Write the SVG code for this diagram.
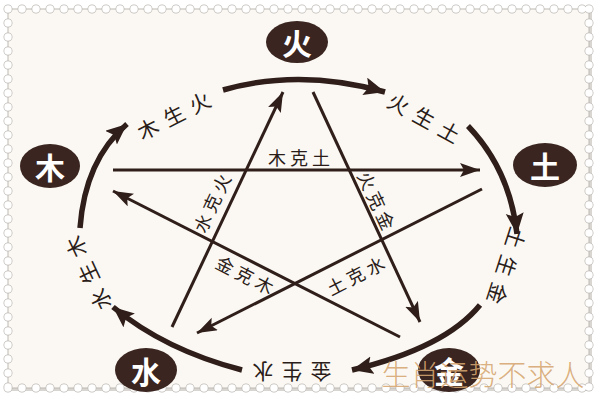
<svg xmlns="http://www.w3.org/2000/svg" width="600" height="400" viewBox="0 0 600 400">
<style>
.node ellipse{fill:#3a2520}
.node text{fill:#ffffff;font-family:"Noto Sans CJK SC",sans-serif;font-weight:bold;font-size:30px;text-anchor:middle;dominant-baseline:central}
.arc{fill:none;stroke:#2f1e19;stroke-width:5.5;stroke-linecap:butt}
.star{fill:none;stroke:#2f1e19;stroke-width:3}
.lbl{fill:#2a1c18;font-family:"Noto Sans CJK SC",sans-serif;font-size:21px;text-anchor:middle;dominant-baseline:central;letter-spacing:8px}
.slbl{fill:#2a1c18;font-family:"Noto Sans CJK SC",sans-serif;font-size:18px;text-anchor:middle;dominant-baseline:central;letter-spacing:4px}
.perf{fill:none;stroke-dasharray:0 14;stroke-linecap:round}
</style>
<defs>
<marker id="ah" markerUnits="userSpaceOnUse" markerWidth="22" markerHeight="16" refX="20" refY="7" orient="auto">
<path d="M0,0 L20,7 L0,14 L4,7 z" fill="#2f1e19"/>
</marker>
<marker id="ahb" markerUnits="userSpaceOnUse" markerWidth="24" markerHeight="20" refX="21" refY="9" orient="auto">
<path d="M0,0 L21,9 L0,18 L4,9 z" fill="#2f1e19"/>
</marker>
</defs>
<rect width="600" height="400" fill="#ffffff"/>
<rect x="10" y="11" width="582" height="380" fill="#d9d6d2"/>
<rect x="8" y="9" width="581" height="379" fill="#fbf8f3" stroke="#bdb9b4" stroke-width="1"/>
<g class="perf" stroke="#bdb9b4" stroke-width="9">
<path d="M8,9 H589 M8,388 H589 M8,9 V388 M589,9 V388"/>
</g>
<g class="perf" stroke="#ffffff" stroke-width="7.5">
<path d="M8,9 H589 M8,388 H589 M8,9 V388 M589,9 V388"/>
</g>
<g id="connectors">
<path class="arc" d="M223,90 Q300,68 385,92" marker-end="url(#ahb)"/>
<path class="arc" d="M468,126 Q510,170 517,234" marker-end="url(#ahb)"/>
<path class="arc" d="M480,305 Q445,348 352,370" marker-end="url(#ahb)"/>
<path class="arc" d="M242,370 Q165,350 113,307" marker-end="url(#ahb)"/>
<path class="arc" d="M80,228 Q85,160 127,124" marker-end="url(#ahb)"/>
<path class="star" d="M113,170 L480,170" marker-end="url(#ah)"/>
<path class="star" d="M313,92 L420,322" marker-end="url(#ah)"/>
<path class="star" d="M482,189 L197,333" marker-end="url(#ah)"/>
<path class="star" d="M400,337 L113,191" marker-end="url(#ah)"/>
<path class="star" d="M172,327 L283,92" marker-end="url(#ah)"/>
</g>
<g id="labels">
<text class="lbl" transform="translate(177,113) rotate(-27)">木生火</text>
<text class="lbl" transform="translate(428,119) rotate(29)">火生土</text>
<text class="lbl" transform="translate(506,270) rotate(108)">土生金</text>
<text class="lbl" transform="translate(288,373) rotate(180)">金生水</text>
<text class="lbl" transform="translate(86,270) rotate(-115)">水生木</text>
<text class="slbl" transform="translate(301,157)">木克土</text>
<text class="slbl" transform="translate(212,201) rotate(-65)">水克火</text>
<text class="slbl" transform="translate(378,202) rotate(65)">火克金</text>
<text class="slbl" transform="translate(247,275) rotate(27)">金克木</text>
<text class="slbl" transform="translate(357,274) rotate(-27)">土克水</text>
</g>
<g id="node-huo" class="node"><ellipse cx="297" cy="42" rx="31" ry="21"/><text x="297" y="42">火</text></g>
<g id="node-mu" class="node"><ellipse cx="50" cy="166" rx="30" ry="22"/><text x="50" y="166">木</text></g>
<g id="node-tu" class="node"><ellipse cx="545" cy="165" rx="32" ry="22"/><text x="545" y="165">土</text></g>
<g id="node-shui" class="node"><ellipse cx="146" cy="370" rx="31" ry="22"/><text x="146" y="370">水</text></g>
<g id="node-jin" class="node"><ellipse cx="449" cy="370" rx="31" ry="22"/><text x="449" y="370">金</text></g>
<text x="483" y="386" font-family="Noto Sans CJK SC,sans-serif" font-size="29" font-weight="300" fill="#d6a670" fill-opacity="0.9" text-anchor="middle">生肖运势不求人</text>
</svg>
